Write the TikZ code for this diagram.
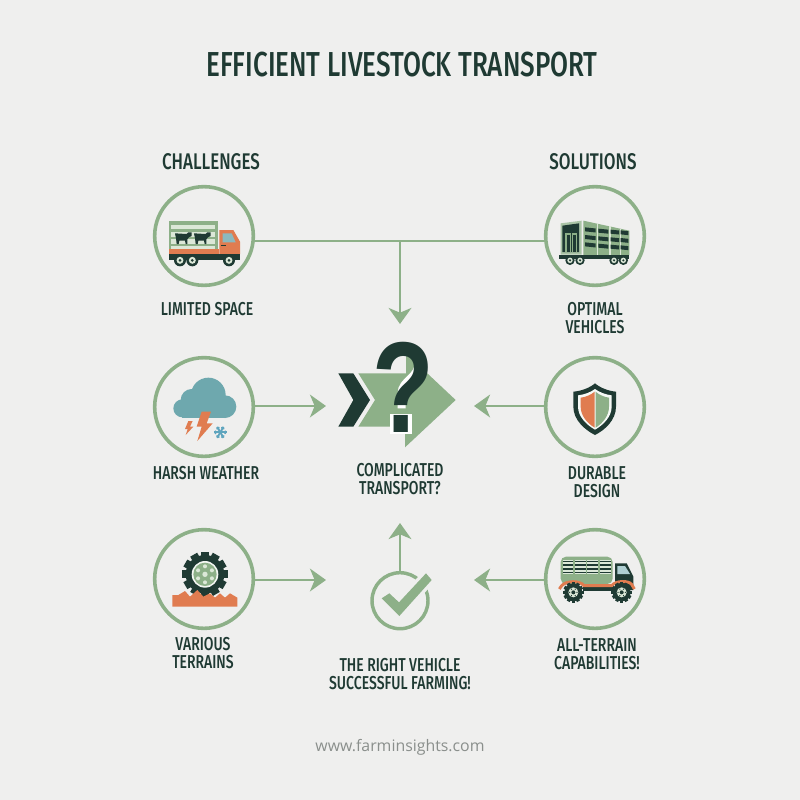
\documentclass[tikz,border=0pt]{standalone}
\usepackage{fontspec}
\usetikzlibrary{arrows.meta,calc}
\setmainfont{Fira Sans}
\newfontfamily\headfont[FakeStretch=0.75,UprightFont=* Medium,BoldFont=* Medium]{Fira Sans}
\newfontfamily\urlfont{Open Sans}
\newfontfamily\qfont[FakeStretch=0.78]{Liberation Sans Bold}
\definecolor{bgc}{HTML}{EFEFEE}
\definecolor{ink}{HTML}{1F3A33}
\definecolor{leaf}{HTML}{8DB088}
\definecolor{leafl}{HTML}{DCE8D8}
\definecolor{rust}{HTML}{E07C50}
\definecolor{teal}{HTML}{6EA8AE}
\definecolor{sky}{HTML}{5FA5BE}
\definecolor{urlc}{HTML}{8A8F8C}
\tikzset{
  x=0.75pt,y=-0.75pt,
  ring/.style={circle,draw=leaf,line width=2.7pt,minimum size=74pt,inner sep=0pt,outer sep=0pt},
  conn/.style={draw=leaf,line width=2.2pt},
  arrowed/.style={conn,-{Stealth[length=12pt,width=17pt,inset=3.5pt]}},
  lbl/.style={align=center,text=ink,inner sep=0pt,font=\headfont\fontsize{14}{13.6}\selectfont},
  headl/.style={align=center,text=ink,inner sep=0pt,font=\headfont\fontsize{17}{18}\selectfont},
  zoomed/.style={shift={#1},scale=1/3},
}
\newcommand{\smallwheel}[3]{\fill[ink] (#1,#2) circle (#3); \fill[leafl] (#1,#2) circle (#3*0.58); \fill[ink] (#1,#2) circle (#3*0.25);}
\newcommand{\cow}[1]{\begin{scope}[shift={(#1,0)}]
  \fill[ink] (105,160) -- (140,162) -- (145,157) -- (155,157) -- (155,168) -- (147,172) -- (142,178) -- (142,192) -- (137,192) -- (135,182) -- (118,182) -- (116,192) -- (110,192) -- (108,175) -- cycle;
\end{scope}}
\begin{document}
\begin{tikzpicture}
\useasboundingbox (0,0) rectangle (800,800);
\fill[bgc] (0,0) rectangle (800,800);

% texts
\node[text=ink,inner sep=0pt,font=\headfont\fontsize{26}{28}\selectfont] (title) at (402,65) {EFFICIENT LIVESTOCK TRANSPORT};
\node[headl] (chal) at (211,162) {CHALLENGES};
\node[headl] (solu) at (593,162) {SOLUTIONS};
\node[lbl] (t1) at (207,309) {LIMITED SPACE};
\node[lbl] (t2) at (595,318) {OPTIMAL\\VEHICLES};
\node[lbl] (t3) at (206,473) {HARSH WEATHER};
\node[lbl] (t4) at (597,482) {DURABLE\\DESIGN};
\node[lbl] (t5) at (203,653) {VARIOUS\\TERRAINS};
\node[lbl] (t6) at (597,654) {ALL-TERRAIN\\CAPABILITIES!};
\node[lbl] (t7) at (400,479) {COMPLICATED\\TRANSPORT?};
\node[lbl] (t8) at (400,674) {THE RIGHT VEHICLE\\SUCCESSFUL FARMING!};
\node[text=urlc,inner sep=0pt,font=\urlfont\fontsize{11.9}{14}\selectfont] (url) at (400,747) {www.farminsights.com};

% rings
\node[ring] (c1) at (204,236) {};
\node[ring] (c2) at (595,236) {};
\node[ring] (c3) at (204,407) {};
\node[ring] (c4) at (595,407) {};
\node[ring] (c5) at (204,579) {};
\node[ring] (c6) at (595,579) {};
\node[circle,draw=leaf,line width=2.6pt,minimum size=42pt,inner sep=0pt,outer sep=0pt] (chk) at (400,600.7) {};

% connector ends
\coordinate (j) at (400,241);
\coordinate (topend) at (400,324);
\coordinate (l2) at (326,406);
\coordinate (r2) at (474,406);
\coordinate (l3) at (326,580);
\coordinate (r3) at (474,580);
\coordinate (upend) at (400,523);

\draw[conn] (c1.east |- j) -- (c2.west |- j);
\draw[arrowed] (j) -- (topend);
\draw[arrowed] (c3.east |- l2) -- (l2);
\draw[arrowed] (c4.west |- r2) -- (r2);
\draw[arrowed] (c5.east |- l3) -- (l3);
\draw[arrowed] (c6.west |- r3) -- (r3);
\draw[arrowed] (chk.north) -- (upend);

% centre icon
\begin{scope}[zoomed={(320,325)}]
  \fill[ink] (55,145) -- (100,145) -- (150,225) -- (100,305) -- (55,305) -- (100,225) -- cycle;
  \fill[leaf] (115,145) -- (258,145) -- (258,85) -- (407,225) -- (255,367) -- (255,305) -- (115,305) -- (165,225) -- cycle;
  \draw[white,line width=6pt,line cap=butt] (200,125) .. controls (200,50) and (295,50) .. (297,110) .. controls (297,160) and (245,165) .. (245,205) -- (245,250);
  \fill[white] (210,267) rectangle (275,328);
\end{scope}
\node[anchor=base,inner sep=0pt,text=ink,font=\qfont\fontsize{97}{97}\selectfont] (q) at (403.5,432) {?};

% check mark
\begin{scope}[zoomed={(330,515)}]
  \draw[bgc,line width=5pt,line join=miter] (155,250) -- (178,235) -- (207,262) -- (288,175) -- (305,195) -- (208,303) -- cycle;
  \fill[leaf] (155,250) -- (178,235) -- (207,262) -- (288,175) -- (305,195) -- (208,303) -- cycle;
\end{scope}

% truck, limited space
\begin{scope}[zoomed={(140,180)}]
  \fill[leafl] (87,123) rectangle (232,215);
  \fill[leaf] (87,123) rectangle (232,134);
  \fill[leaf] (87,148) rectangle (232,156);
  \fill[leaf] (87,172) rectangle (232,178);
  \fill[leaf] (87,192) rectangle (232,198);
  \fill[leaf] (87,123) rectangle (93,215);
  \fill[leaf] (226,123) rectangle (234,220);
  \cow{0}\cow{57}
  \fill[rust] (87,208) rectangle (236,222);
  \fill[rust] (238,150) -- (280,150) -- (300,185) -- (300,222) -- (238,222) -- cycle;
  \fill[teal!80!white] (248,160) -- (275,160) -- (287,187) -- (248,187) -- cycle;
  \fill[ink] (243,195) rectangle (258,199);
  \fill[ink] (87,222) rectangle (300,240);
  \smallwheel{120}{241}{18}\smallwheel{157}{241}{18}\smallwheel{267}{241}{18}
\end{scope}

% trailer, optimal vehicles
\begin{scope}[zoomed={(530,180)}]
  \fill[leaf!75!white] (92,130) -- (155,122) -- (155,224) -- (92,224) -- cycle;
  \fill[ink] (97,137) -- (147,130) -- (147,216) -- (97,216) -- cycle;
  \fill[leaf] (106,160) rectangle (123,216);
  \fill[ink] (110,165) rectangle (119,216);
  \fill[leaf] (126,160) rectangle (141,216);
  \fill[ink] (130,165) rectangle (137,216);
  \fill[leaf] (160,122) -- (298,152) -- (298,225) -- (160,225) -- cycle;
  \foreach \px/\pb in {200/130,237/139,269/146}{\fill[leafl] (\px,\pb) rectangle (\px+5,225);}
  \foreach \xa/\xb/\ya/\yb in {165/197/0/7,205/235/8/14,242/267/14/19,272/295/18/23}{
    \foreach \dy in {142,165,187}{
      \fill[ink] (\xa,\dy+\ya*0.5) -- (\xb,\dy+\yb*0.5) -- (\xb,\dy+\yb*0.5+12) -- (\xa,\dy+\ya*0.5+12) -- cycle;
    }
  }
  \fill[ink] (88,225) rectangle (298,238);
  \smallwheel{120}{241}{14}\smallwheel{150}{241}{14}\smallwheel{252}{241}{14}\smallwheel{280}{241}{14}
\end{scope}

% weather
\begin{scope}[zoomed={(140,345)}]
  \fill[teal] (205,150) circle (52);
  \fill[teal] (155,165) circle (33);
  \fill[teal] (127,190) circle (27);
  \fill[teal] (255,185) circle (34);
  \fill[teal] (127,190) rectangle (255,218);
  \fill[rust] (185,200) -- (213,200) -- (200,235) -- (218,235) -- (172,288) -- (185,245) -- (170,245) -- cycle;
  \fill[rust] (145,228) -- (158,228) -- (150,245) -- (160,245) -- (137,270) -- (143,252) -- (135,252) -- cycle;
  \foreach \a in {0,60,120}{
    \draw[sky,line width=1.4pt] ($(241,262)+(\a:19)$) -- ($(241,262)+(\a+180:19)$);
  }
  \foreach \a in {0,60,...,300}{
    \draw[sky,line width=1pt] ($(241,262)+(\a:12)+(\a+50:6)$) -- ($(241,262)+(\a:12)$) -- ($(241,262)+(\a:12)+(\a-50:6)$);
  }
\end{scope}

% shield
\begin{scope}[zoomed={(530,345)}]
  \fill[ink] (195,115) .. controls (210,128) and (235,138) .. (258,140) -- (258,185) .. controls (258,225) and (225,255) .. (195,270) .. controls (165,255) and (130,225) .. (130,185) -- (130,140) .. controls (155,138) and (180,128) .. (195,115) -- cycle;
  \fill[white!92!leaf] (195,132) .. controls (208,142) and (228,149) .. (245,151) -- (245,185) .. controls (245,215) and (220,240) .. (195,254) .. controls (170,240) and (144,215) .. (144,185) -- (144,151) .. controls (162,149) and (182,142) .. (195,132) -- cycle;
  \fill[rust] (194,140) -- (194,248) .. controls (172,235) and (152,212) .. (152,185) -- (152,158) .. controls (168,156) and (182,150) .. (194,140) -- cycle;
  \fill[leaf] (197,140) -- (197,248) .. controls (218,235) and (237,212) .. (237,185) -- (237,158) .. controls (222,156) and (208,150) .. (197,140) -- cycle;
\end{scope}

% gear tyre and terrain
\begin{scope}[zoomed={(140,515)}]
  \fill[ink] (195,178) circle (58);
  \foreach \a in {0,30,...,330}{
    \fill[ink,rotate around={\a:(195,178)}] (183,110) rectangle (207,130);
  }
  \fill[rust] (97,275) -- (97,240) -- (115,240) -- (135,228) -- (150,245) -- (172,225) -- (190,245) -- (210,235) -- (225,248) -- (240,235) -- (255,248) -- (270,235) -- (292,248) -- (292,275) -- cycle;
  \fill[white!90!leaf] (195,178) circle (40);
  \fill[leaf] (195,178) circle (35);
  \foreach \a in {0,60,...,300}{
    \fill[leafl] ($(195,178)+(\a+30:24)$) circle (6);
  }
  \fill[leafl] (195,178) circle (8);
\end{scope}

% all-terrain truck
\begin{scope}[zoomed={(530,515)}]
  \fill[leaf,rounded corners=4pt] (92,125) rectangle (248,207);
  \foreach \xa/\xb in {98/130,135/167,172/205,210/243}{
    \fill[leafl] (\xa,134) rectangle (\xb,177);
    \foreach \yy in {137,148,159,170}{\fill[ink] (\xa,\yy) rectangle (\xb,\yy+5);}
  }
  \fill[ink] (255,145) -- (290,145) -- (310,185) -- (310,225) -- (255,225) -- cycle;
  \fill[teal!55!white] (262,153) -- (285,153) -- (300,177) -- (262,177) -- cycle;
  \fill[ink] (160,215) rectangle (255,228);
  \draw[rust,line width=2.2pt] (88,222) -- (95,212) .. controls (110,196) and (150,196) .. (162,212) -- (245,212) .. controls (258,196) and (295,196) .. (305,208) -- (313,222);
  \foreach \wx in {130,275}{
    \fill[ink] (\wx,232) circle (27);
    \foreach \a in {0,30,...,330}{
      \fill[ink,rotate around={\a:(\wx,232)}] (\wx-5,201) rectangle (\wx+5,210);
    }
    \fill[leafl] (\wx,232) circle (15);
    \fill[ink] (\wx,232) circle (6);
    \foreach \a in {0,60,...,300}{\fill[ink] ($(\wx,232)+(\a:11)$) circle (2);}
  }
\end{scope}
\end{tikzpicture}
\end{document}
